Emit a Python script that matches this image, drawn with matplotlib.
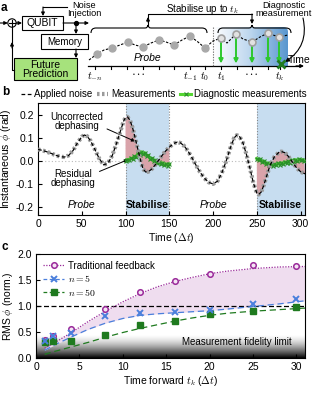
import numpy as np
import matplotlib
matplotlib.use("Agg")
import matplotlib.pyplot as plt
from matplotlib.patches import Rectangle, Circle, FancyBboxPatch, PathPatch
from matplotlib.path import Path
from matplotlib.lines import Line2D
from matplotlib.colors import LinearSegmentedColormap

plt.rcParams['font.family'] = ['Liberation Sans', 'DejaVu Sans']
plt.rcParams['mathtext.fontset'] = 'cm'
plt.rcParams['axes.linewidth'] = 0.8

# ---- panel b data ----
noise_t = [0, 5, 10, 15, 20, 25, 30, 35, 40, 45, 50, 53, 56, 60, 65, 70, 75, 80, 85, 90,
           95, 98, 100, 102, 105, 108, 111, 114, 117, 120, 123, 126, 130, 135, 140, 145, 150,
           155, 159, 163, 167, 171, 175, 180, 185, 190, 195, 200, 205, 210, 215, 220, 224,
           227, 230, 234, 238, 242, 246, 250, 252, 255, 258, 261, 265, 270, 275, 278, 282,
           286, 290, 295, 300, 305]
noise_phi = [0.050, 0.046, 0.040, 0.033, 0.025, 0.019, 0.017, 0.024, 0.045, 0.078, 0.105,
             0.113, 0.108, 0.088, 0.050, 0.010, -0.017, -0.010, 0.025, 0.080, 0.140, 0.175,
             0.188, 0.192, 0.178, 0.145, 0.100, 0.052, 0.005, -0.035, -0.048, -0.047, -0.035,
             -0.012, 0.015, 0.040, 0.060, 0.076, 0.082, 0.078, 0.065, 0.045, 0.020, -0.015,
             -0.048, -0.075, -0.093, -0.100, -0.088, -0.052, 0.000, 0.060, 0.100, 0.112,
             0.108, 0.080, 0.030, -0.030, -0.095, -0.140, -0.146, -0.135, -0.105, -0.068,
             -0.020, 0.018, 0.037, 0.041, 0.036, 0.020, -0.002, -0.028, -0.047, -0.056]

diag1_t = list(range(100, 151, 2))
diag1_phi = [0.000, 0.006, 0.003, 0.012, 0.009, 0.020, 0.016, 0.030, 0.026, 0.040, 0.032,
             0.036, 0.022, 0.024, 0.010, 0.012, 0.000, 0.004, -0.008, -0.004, -0.014, -0.008,
             -0.018, -0.012, -0.020, -0.014]
diag2_t = list(range(250, 305, 2))
diag2_phi = [0.010, 0.004, 0.008, -0.004, 0.000, -0.012, -0.008, -0.018, -0.012, -0.020,
             -0.014, -0.018, -0.010, -0.016, -0.008, -0.012, -0.004, -0.010, -0.002, -0.008,
             0.004, -0.004, 0.006, -0.002, 0.008, 0.002, 0.006, 0.000]
stab_windows = [(100, 150), (250, 305)]
phase_labels = [(50, 'Probe'), (125, 'Stabilise'), (200, 'Probe'), (277, 'Stabilise')]

# ---- panel c data ----
tk = [1, 2, 4, 8, 12, 16, 20, 25, 30]
trad_rms = [0.35, 0.43, 0.55, 0.95, 1.27, 1.49, 1.62, 1.78, 1.76]
n5_rms = [0.32, 0.43, 0.48, 0.81, 0.86, 0.89, 0.93, 1.04, 1.14]
n50_rms = [0.30, 0.32, 0.32, 0.45, 0.64, 0.72, 0.85, 0.90, 0.99]
fit_tk = [1, 2, 4, 6, 8, 10, 12, 14, 16, 18, 20, 22, 25, 28, 31]
trad_fit = [0.19, 0.28, 0.48, 0.70, 0.90, 1.08, 1.24, 1.37, 1.47, 1.55, 1.62, 1.67, 1.72, 1.75, 1.76]
n5_fit = [0.15, 0.24, 0.40, 0.55, 0.67, 0.76, 0.82, 0.85, 0.87, 0.89, 0.91, 0.94, 0.99, 1.04, 1.10]
n50_fit = [0.07, 0.12, 0.21, 0.30, 0.40, 0.49, 0.57, 0.64, 0.71, 0.77, 0.82, 0.86, 0.90, 0.93, 0.96]

# ---- panel a schematic (pixel layout) ----
curve_x = [89, 97, 104, 112, 120, 128, 135, 143, 151, 159, 166, 174, 182, 190, 198, 205,
           213, 221, 227, 236, 243, 252, 260, 268, 273, 279, 288]
curve_y = [60, 54, 50, 48, 45, 42, 45, 47, 43, 40, 42, 45, 40, 36, 42, 48, 41, 38, 43, 34,
           39, 42, 37, 33, 35, 37, 35]
probe_x = [97, 112, 128, 143, 159, 174, 190, 205]
probe_y = [54, 48, 42, 47, 40, 45, 36, 48]
stab_x = [221, 236, 252, 268, 279]
stab_y = [38, 34, 42, 33, 37]
tick_x = [95, 111, 127, 143, 159, 174, 190, 205, 221, 237, 252, 268, 280]
tick_lab = [(95, '$t_{-n}$'), (190, '$t_{-1}$'), (205, '$t_0$'), (221, '$t_1$'), (280, '$t_k$')]

purple = '#9a2a9a'
blue = '#4a7fdc'
dgreen = '#1f7a1f'

fig = plt.figure(figsize=(3.15, 3.94), dpi=100)


def arrow(ax, p0, p1, color='k', lw=0.8, ms=5):
    ax.annotate('', xy=p1, xytext=p0,
                arrowprops=dict(arrowstyle='-|>', color=color, lw=lw, mutation_scale=ms,
                                shrinkA=0, shrinkB=0))


def brace(ax, x0, x1, xm, y, h=5):
    verts = [(x0, y + h), (x0, y), (x0 + 5, y), (xm - 3, y), (xm, y), (xm, y - 3),
             (xm, y), (xm + 3, y), (x1 - 5, y), (x1, y), (x1, y + h)]
    codes = [Path.MOVETO, Path.CURVE3, Path.CURVE3, Path.LINETO, Path.CURVE3, Path.CURVE3,
             Path.CURVE3, Path.CURVE3, Path.LINETO, Path.CURVE3, Path.CURVE3]
    ax.add_patch(PathPatch(Path(verts, codes), fill=False, lw=0.8, color='k'))


# ================= panel a =================
ax_a = fig.add_axes([0, 1 - 88 / 394, 1, 88 / 394])
ax_a.axis('off')

# gradient stabilise window
cmap = LinearSegmentedColormap.from_list('stab', ['white', '#bcd6ee', '#5a97cf'])
im = ax_a.imshow(np.linspace(0, 1, 100)[None, :], cmap=cmap, aspect='auto',
                 extent=(213, 288, 66, 27), zorder=0)
clip = FancyBboxPatch((213, 27), 75, 45, boxstyle='round,pad=0,rounding_size=5',
                      transform=ax_a.transData, facecolor='none', edgecolor='none')
ax_a.add_patch(clip)
im.set_clip_path(clip)

ax_a.text(1, 8, 'a', fontsize=8.5, fontweight='bold', va='center')
arrow(ax_a, (0, 23), (7.8, 23))
ax_a.add_patch(Circle((12, 23), 4.2, fill=False, lw=0.8))
ax_a.plot([9.3, 14.7], [23, 23], color='k', lw=0.8)
ax_a.plot([12, 12], [20.3, 25.7], color='k', lw=0.8)
arrow(ax_a, (16.2, 23), (22, 23))
ax_a.add_patch(Rectangle((22, 16), 41, 14, facecolor='white', edgecolor='k', lw=0.8))
ax_a.text(42.5, 23.3, 'QUBIT', fontsize=7.5, ha='center', va='center')

ax_a.plot([67, 43], [7, 7], color='k', lw=0.8)
arrow(ax_a, (43, 7), (43, 16))
ax_a.text(84, 9.5, 'Noise\nInjection', fontsize=6.6, ha='center', va='center', linespacing=0.8)

arrow(ax_a, (63, 23), (89, 23))
ax_a.plot([76], [23], 'o', color='k', ms=2.8)
arrow(ax_a, (76, 23), (76, 34))
ax_a.add_patch(Rectangle((41, 34), 47, 15, facecolor='white', edgecolor='k', lw=0.8))
ax_a.text(64.5, 41.7, 'Memory', fontsize=7, ha='center', va='center')
arrow(ax_a, (76, 49), (76, 58))
ax_a.add_patch(Rectangle((14, 58), 63, 22, facecolor='#a6e27c', edgecolor='k', lw=0.8))
ax_a.text(45, 69.3, 'Future\nPrediction', fontsize=7.5, ha='center', va='center',
          linespacing=0.9)
ax_a.plot([14, 12, 12], [70, 70, 27.2], color='k', lw=0.8)
arrow(ax_a, (12, 48), (12, 42))

# timeline
ax_a.plot([88, 300], [66, 66], color='k', lw=0.9)
arrow(ax_a, (296, 66), (304, 66), lw=0.9)
ax_a.text(288, 60, 'Time', fontsize=7.5, ha='left', va='center')
for x in tick_x:
    ax_a.plot([x, x], [66, 69], color='k', lw=0.8)
for x, lab in tick_lab:
    ax_a.text(x, 77, lab, fontsize=7.5, ha='center', va='center')
ax_a.text(139, 75, '•  •  •', fontsize=3.5, ha='center', va='center')
ax_a.text(252, 75, '•  •  •', fontsize=3.5, ha='center', va='center')
ax_a.text(148, 58, 'Probe', fontsize=7.5, style='italic', ha='center', va='center')

ax_a.plot([213, 213], [27, 66], color='#777777', lw=0.8, ls=(0, (1.2, 1.2)))
ax_a.plot(curve_x, curve_y, color='k', lw=0.8, ls=(0, (2.2, 1.4)), zorder=3)
ax_a.plot(probe_x, probe_y, 'o', color='#a9a9a9', ms=5, zorder=4)
for x, y in zip(stab_x, stab_y):
    arrow(ax_a, (x, y + 2.5), (x, 63.5), color='#2dc82d', lw=1.4, ms=6)
ax_a.plot(stab_x, stab_y, 'o', mfc='#e2e2e2', mec='#a0a0a0', mew=1.2, ms=5, zorder=4)
ax_a.plot([281], [64], 'x', color='#1f7a1f', ms=5.5, mew=2, zorder=5)

brace(ax_a, 91, 207, 148, 28)
brace(ax_a, 218, 291, 252, 28)
ax_a.plot([148, 148, 252], [25, 14, 14], color='k', lw=0.8)
arrow(ax_a, (148, 22), (148, 17))
arrow(ax_a, (252, 14), (252, 24))
ax_a.text(202, 8.5, 'Stabilise up to $t_k$', fontsize=7, ha='center', va='center')
ax_a.text(284, 9.5, 'Diagnostic\nmeasurement', fontsize=6.6, ha='center', va='center',
          linespacing=0.8)
ax_a.annotate('', xy=(285, 62), xytext=(303, 18),
              arrowprops=dict(arrowstyle='-|>', color='k', lw=0.8, mutation_scale=6,
                              connectionstyle='arc3,rad=-0.35', shrinkA=0, shrinkB=0))
ax_a.set_xlim(0, 315)
ax_a.set_ylim(88, 0)

# ================= panel b =================
ax_b = fig.add_axes([38 / 315, 179 / 394, 267 / 315, 112 / 394])
for a, b in stab_windows:
    ax_b.axvspan(a, b, color='#c7ddf0', lw=0, zorder=0)
for v in [100, 150, 250]:
    ax_b.axvline(v, color='#888888', lw=0.8, ls=(0, (1, 1.5)), zorder=1)
ax_b.axhline(0, color='#bbbbbb', lw=0.8, ls=(0, (1, 2)), zorder=1)

t_arr = np.array(noise_t)
p_arr = np.array(noise_phi)
for (a, b), dt, dp in [(stab_windows[0], diag1_t, diag1_phi), (stab_windows[1], diag2_t, diag2_phi)]:
    sel = (t_arr >= a) & (t_arr <= b)
    xs = list(t_arr[sel]) + dt[::-1]
    ys = list(p_arr[sel]) + dp[::-1]
    ax_b.fill(xs, ys, color='#d9a3aa', lw=0, zorder=2)
    ax_b.plot(dt, dp, color='#55d633', lw=2.2, zorder=3)
    ax_b.plot(dt, dp, 'x', color='#2a8f2a', ms=2.6, mew=0.8, zorder=4)

ax_b.plot(noise_t, noise_phi, color='#9a9a9a', lw=3.0, ls=(0, (0.6, 0.6)), zorder=5)
ax_b.plot(noise_t, noise_phi, color='k', lw=0.9, ls=(0, (3, 2)), zorder=6)

for t, lab in phase_labels:
    if lab == 'Probe':
        ax_b.text(t, -0.19, lab, fontsize=7.5, style='italic', ha='center', va='center')
    else:
        ax_b.text(t, -0.19, lab, fontsize=7.5, fontweight='bold', ha='center', va='center')

ax_b.annotate('Uncorrected\ndephasing', xy=(111, 0.085), xytext=(44, 0.172),
              fontsize=7, ha='center', va='center', linespacing=0.9,
              arrowprops=dict(arrowstyle='-|>', color='k', lw=0.7, mutation_scale=5,
                              shrinkA=1, shrinkB=0, relpos=(1, 0.2)))
ax_b.annotate('Residual\ndephasing', xy=(103, 0.006), xytext=(40, -0.078),
              fontsize=7, ha='center', va='center', linespacing=0.9,
              arrowprops=dict(arrowstyle='-|>', color='k', lw=0.7, mutation_scale=5,
                              shrinkA=1, shrinkB=0, relpos=(1, 0.8)))

ax_b.set_xlim(0, 305)
ax_b.set_ylim(-0.235, 0.252)
ax_b.set_xticks([0, 50, 100, 150, 200, 250, 300])
ax_b.set_yticks([-0.2, -0.1, 0.0, 0.1, 0.2])
ax_b.set_yticklabels(['-0.2', '-0.1', '0.0', '0.1', '0.2'])
ax_b.tick_params(direction='in', labelsize=7.5, length=3, width=0.8, pad=3)
ax_b.set_xlabel(r'Time ($\Delta t$)', fontsize=7.5, labelpad=1)
ax_b.set_ylabel(r'Instantaneous $\phi$ (rad)', fontsize=7.5, labelpad=2)

h_b = [Line2D([], [], color='k', lw=0.9, ls=(0, (3, 2))),
       Line2D([], [], color='#9a9a9a', lw=3.0, ls=(0, (0.6, 0.6))),
       Line2D([], [], color='#55d633', lw=2.2, marker='x', ms=2.6, mew=0.8, mec='#2a8f2a')]
ax_b.legend(h_b, ['Applied noise', 'Measurements', 'Diagnostic measurements'],
            loc='lower center', bbox_to_anchor=(0.47, 0.99), ncol=3, frameon=False,
            fontsize=7, handlelength=1.1, handletextpad=0.3, columnspacing=0.5,
            borderaxespad=0.1)

# ================= panel c =================
ax_c = fig.add_axes([36 / 315, 36 / 394, 269 / 315, 104 / 394])
grad = np.zeros((100, 1, 4))
grad[:, 0, 3] = np.linspace(1, 0, 100) ** 1.6
ax_c.imshow(grad, extent=(0, 31, 0, 0.45), origin='lower', aspect='auto', zorder=0)
ax_c.text(29.5, 0.3, 'Measurement fidelity limit', fontsize=7, ha='right', va='center')

ax_c.fill_between(fit_tk, n5_fit, trad_fit, color='#efddef', lw=0, zorder=1)
ax_c.axhline(1.0, color='k', lw=0.9, ls=(0, (4, 2)), zorder=2)
ax_c.plot(fit_tk, trad_fit, color=purple, lw=0.9, ls=(0, (1, 1.2)), zorder=3)
ax_c.plot(fit_tk, n5_fit, color=blue, lw=0.9, ls=(0, (5, 3)), zorder=3)
ax_c.plot(fit_tk, n50_fit, color=dgreen, lw=0.9, ls=(0, (5, 3)), zorder=3)
ax_c.plot(tk, trad_rms, 'o', mfc='#f4e4f4', mec=purple, mew=1.1, ms=4, zorder=4)
ax_c.plot(tk, n5_rms, 'x', color=blue, mew=1.4, ms=4.5, zorder=5)
ax_c.plot(tk, n50_rms, 's', color=dgreen, ms=4, zorder=4)

h_c = [Line2D([], [], color=purple, lw=0.9, ls=(0, (1, 1.2)), marker='o', mfc='#f4e4f4',
              mec=purple, mew=1.1, ms=4),
       Line2D([], [], color=blue, lw=0.9, ls=(0, (3, 2)), marker='x', mew=1.4, ms=4.5),
       Line2D([], [], color=dgreen, lw=0.9, ls=(0, (3, 2)), marker='s', ms=4)]
ax_c.legend(h_c, ['Traditional feedback', '$n = 5$', '$n = 50$'], loc='upper left',
            frameon=False, fontsize=7, handlelength=2.2, handletextpad=0.4,
            borderaxespad=0.3, labelspacing=0.25)

ax_c.set_xlim(0, 31)
ax_c.set_ylim(0, 2.0)
ax_c.set_xticks([0, 5, 10, 15, 20, 25, 30])
ax_c.set_yticks([0.0, 0.5, 1.0, 1.5, 2.0])
ax_c.set_yticklabels(['0.0', '0.5', '1.0', '1.5', '2.0'])
ax_c.tick_params(direction='in', labelsize=7.5, length=3, width=0.8, pad=3)
ax_c.set_xlabel(r'Time forward $t_k$ ($\Delta t$)', fontsize=7.5, labelpad=1)
ax_c.set_ylabel(r'RMS $\phi$ (norm.)', fontsize=7.5, labelpad=2)

fig.text(2 / 315, 1 - 92 / 394, 'b', fontsize=8.5, fontweight='bold', va='center')
fig.text(2 / 315, 1 - 247 / 394, 'c', fontsize=8.5, fontweight='bold', va='center')

fig.savefig('out.png', dpi=100)
